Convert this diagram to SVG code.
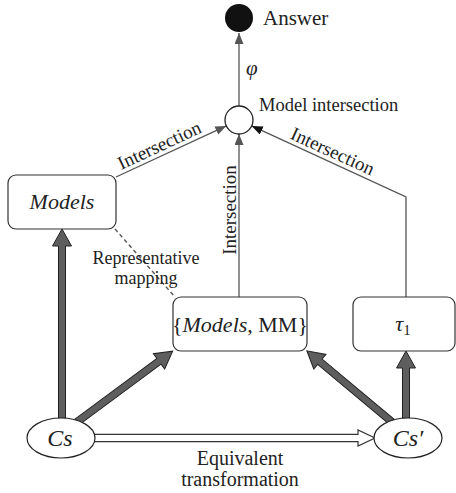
<svg xmlns="http://www.w3.org/2000/svg" width="456" height="493" viewBox="0 0 456 493">
<defs>
<style>
.lbl{font-family:"Liberation Serif","Times New Roman",serif;fill:#222}
.it{font-style:italic}
.box{fill:#fff;stroke:#333;stroke-width:1.2}
.conn{fill:none;stroke:#555;stroke-width:1.3}
.thick{fill:#5e5e5e;stroke:#222;stroke-width:1}
</style>
<marker id="ag" markerUnits="userSpaceOnUse" markerWidth="12" markerHeight="10" refX="11" refY="4.5" orient="auto"><path d="M0,0 L11,4.5 L0,9 z" fill="#555"/></marker>
<marker id="ab" markerUnits="userSpaceOnUse" markerWidth="12" markerHeight="10" refX="11" refY="4.5" orient="auto"><path d="M0,0 L11,4.5 L0,9 z" fill="#111"/></marker>
</defs>
<g id="connectors">
<line class="conn" x1="239" y1="106" x2="239" y2="33" marker-end="url(#ag)"/>
<line class="conn" x1="116" y1="177" x2="226.3" y2="125.9" marker-end="url(#ag)"/>
<line class="conn" x1="239" y1="297" x2="239" y2="134" marker-end="url(#ag)"/>
<path class="conn" d="M406,297 V197 L251.7,125.9" stroke="#222" marker-end="url(#ab)"/>
<line class="conn" x1="115" y1="229" x2="175" y2="297" stroke-dasharray="4,3"/>
<polygon class="thick" transform="translate(62,420) rotate(-90)" points="0,-3.5 174,-3.5 174,-9.5 191,0 174,9.5 174,3.5 0,3.5"/>
<polygon class="thick" transform="translate(406,420) rotate(-90)" points="0,-3.5 52,-3.5 52,-9.5 69,0 52,9.5 52,3.5 0,3.5"/>
<polygon class="thick" transform="translate(77,422) rotate(-36.5)" points="0,-3.5 102,-3.5 102,-9.5 119,0 102,9.5 102,3.5 0,3.5"/>
<polygon class="thick" transform="translate(392,422) rotate(-140.1)" points="0,-3.5 94,-3.5 94,-9.5 111,0 94,9.5 94,3.5 0,3.5"/>
<polygon fill="#fff" stroke="#333" stroke-width="1.2" points="90,434.3 358,434.3 358,430 375,438 358,446 358,441.7 90,441.7"/>
<text class="lbl" style="font-size:19px" text-anchor="middle" transform="translate(162,151) rotate(-24.9)">Intersection</text>
<text class="lbl" style="font-size:19px" text-anchor="middle" transform="translate(330,157) rotate(24.6)">Intersection</text>
<text class="lbl" style="font-size:19px" text-anchor="middle" transform="translate(236,210) rotate(-90)">Intersection</text>
<text class="lbl it" style="font-size:21px" x="246" y="75">φ</text>
<text class="lbl" style="font-size:18px" text-anchor="middle" x="146" y="264">Representative</text>
<text class="lbl" style="font-size:18px" text-anchor="middle" x="146" y="284">mapping</text>
<text class="lbl" style="font-size:20px" text-anchor="middle" x="240" y="465">Equivalent</text>
<text class="lbl" style="font-size:20px" text-anchor="middle" x="240" y="486">transformation</text>
</g>
<g id="answer">
<circle cx="239" cy="18" r="14" fill="#111"/>
<text class="lbl" style="font-size:21px" x="263" y="25">Answer</text>
</g>
<g id="model-intersection">
<circle cx="239" cy="120" r="14" fill="#fff" stroke="#222" stroke-width="1.3"/>
<text class="lbl" style="font-size:18.5px" x="259" y="111">Model intersection</text>
</g>
<g id="models">
<rect class="box" x="8" y="175" width="108" height="54" rx="8"/>
<text class="lbl it" style="font-size:22px" x="62" y="209" text-anchor="middle">Models</text>
</g>
<g id="models-mm">
<rect class="box" x="173" y="297" width="134" height="54" rx="8"/>
<text class="lbl" style="font-size:22px" x="240" y="332" text-anchor="middle">{<tspan class="it">Models</tspan>, MM}</text>
</g>
<g id="tau1">
<rect class="box" x="353" y="297" width="102" height="54" rx="8"/>
<text class="lbl" style="font-size:22px" x="403" y="331" text-anchor="middle"><tspan class="it">τ</tspan><tspan style="font-size:15px" dy="4">1</tspan></text>
</g>
<g id="cs">
<ellipse cx="61" cy="438" rx="34" ry="20" fill="#fff" stroke="#222" stroke-width="1.2"/>
<text class="lbl it" style="font-size:24px" x="60" y="446" text-anchor="middle">Cs</text>
</g>
<g id="cs-prime">
<ellipse cx="408" cy="438" rx="34" ry="20" fill="#fff" stroke="#222" stroke-width="1.2"/>
<text class="lbl it" style="font-size:24px" x="408" y="446" text-anchor="middle">Cs′</text>
</g>
</svg>
